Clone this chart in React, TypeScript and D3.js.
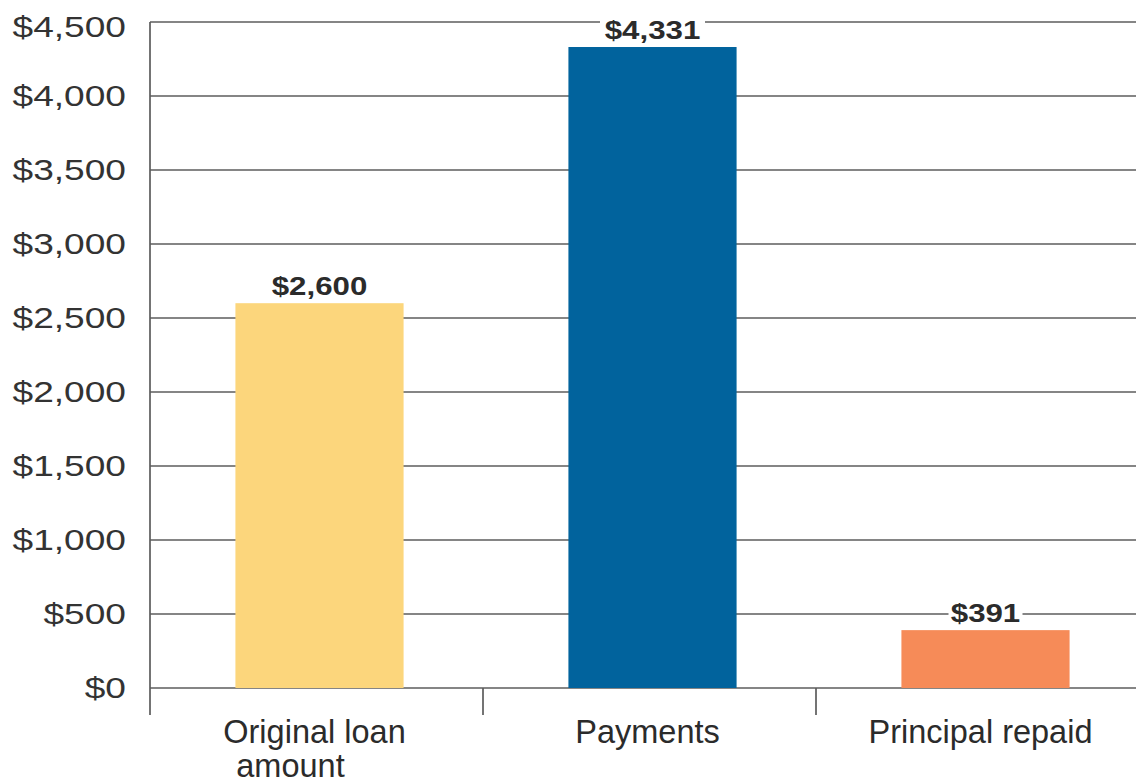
import React from "react";
import * as d3 from "d3";

const categories = ["Original loan amount", "Payments", "Principal repaid"];
const categoryLines = [["Original loan", "amount"], ["Payments"], ["Principal repaid"]];
const values = [2600, 4331, 391];
const barColors = ["#FCD67C", "#01639D", "#F68B58"];
const yTicks = [0, 500, 1000, 1500, 2000, 2500, 3000, 3500, 4000, 4500];

const W = 1136;
const H = 784;
const left = 150;
const right = 1149;
const y0 = 688;
const yTop = 22;

export default function App() {
  const x = d3.scaleBand<string>().domain(categories).range([left, right]).padding(0);
  const y = d3.scaleLinear().domain([0, 4500]).range([y0, yTop]);
  const fmt = (v: number) => "$" + d3.format(",")(v);
  const bw = x.bandwidth() * 0.505;
  const gridColor = "#5c5c5c";
  const textColor = "#2b2b2b";
  const font = "'Liberation Sans', Arial, sans-serif";
  const center = (c: string) => x(c)! + x.bandwidth() / 2 + 3;

  return (
    <svg
      width={W}
      height={H}
      style={{ position: "absolute", left: 0, top: 0, background: "#fff" }}
      fontFamily={font}
    >
      {yTicks.map((t) => (
        <line key={"g" + t} x1={left} x2={W} y1={y(t)} y2={y(t)} stroke={gridColor} strokeWidth={1.7} />
      ))}
      <line x1={left} x2={left} y1={yTop} y2={715} stroke={gridColor} strokeWidth={1.7} />
      {categories.slice(1).map((c) => (
        <line key={"t" + c} x1={x(c)!} x2={x(c)!} y1={y0} y2={715} stroke={gridColor} strokeWidth={1.7} />
      ))}
      {yTicks.map((t) => (
        <text
          key={"yl" + t}
          transform={`translate(126,${y(t) + (t === 4500 ? 5 : 0)}) scale(1.28,1)`}
          textAnchor="end"
          dominantBaseline="central"
          fontSize={29}
          fill="#333"
        >
          {fmt(t)}
        </text>
      ))}
      {categories.map((c, i) => {
        const cx = center(c);
        return (
          <rect
            key={"b" + c}
            x={cx - bw / 2}
            width={bw}
            y={y(values[i])}
            height={y0 - y(values[i])}
            fill={barColors[i]}
          />
        );
      })}
      {categories.map((c, i) => {
        const cx = center(c);
        const label = fmt(values[i]);
        const base = y(values[i]) - 8;
        const approxW = label.length * 15.5 + 4;
        return (
          <g key={"v" + c}>
            <rect x={cx - approxW / 2 - 4} y={base - 22} width={approxW + 8} height={26} fill="#fff" />
            <text
              transform={`translate(${cx},${base}) scale(1.25,1)`}
              textAnchor="middle"
              fontSize={25}
              fontWeight="bold"
              fill={textColor}
            >
              {label}
            </text>
          </g>
        );
      })}
      {categories.map((c, i) => {
        const cx = center(c);
        return (
          <text key={"c" + c} textAnchor="middle" fontSize={32.5} fill={textColor}>
            {categoryLines[i].map((ln, j) => (
              <tspan key={j} x={j === 0 ? cx - 5 : cx - 29} y={743 + j * 34}>
                {ln}
              </tspan>
            ))}
          </text>
        );
      })}
    </svg>
  );
}
